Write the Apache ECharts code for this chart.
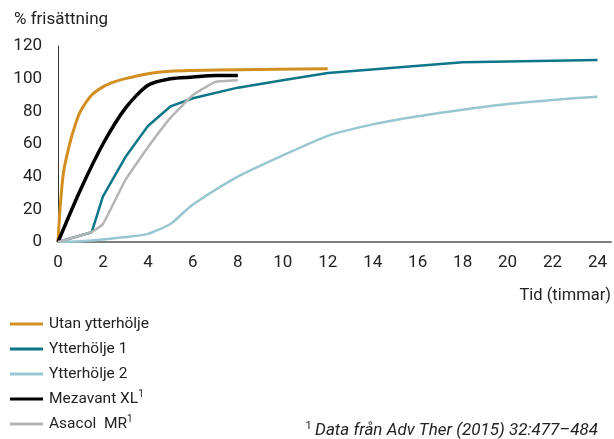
<!DOCTYPE html>
<html><head><meta charset="utf-8">
<script src="https://cdn.jsdelivr.net/npm/echarts@6/dist/echarts.min.js"></script>
<style>html,body{margin:0;padding:0;background:#fff}#c{width:614px;height:439px}</style>
</head><body><div id="c"></div>
<script>
const seriesNames = ['Utan ytterhölje', 'Ytterhölje 1', 'Ytterhölje 2', 'Mezavant XL', 'Asacol  MR'];
const utan = [[0,0],[0.1,22],[0.25,43],[0.5,59],[0.75,71],[1,80],[1.5,90],[2,95],[2.5,98],[3,100],[4,103],[5,104.5],[6,105],[8,105.5],[12,106]];
const ytter1 = [[0,0],[1.5,6],[2,28],[3,52],[4,71],[5,83],[6,88],[8,94.5],[10,99],[12,103.5],[18,110],[24,111.5]];
const ytter2 = [[0,0],[1,0.5],[2,1.5],[3,3],[4,5],[5,11],[5.5,17],[6,23],[8,40],[10,53],[12,65],[14,72],[16,77],[18,81],[20,84.5],[22,87],[24,89]];
const mezavant = [[0,0],[1,32],[2,60],[3,82],[4,96],[5,100],[6,101],[7,102],[8,102]];
const asacol = [[0,0],[1,4],[1.5,6],[2,11],[3,38],[4,58],[5,76],[6,90],[7,98],[8,99]];
const xTicks = [0,2,4,6,8,10,12,14,16,18,20,22,24];
const yTicks = [0,20,40,60,80,100,120];

const colors = ['#d28e20', '#0d7688', '#98c7d1', '#000000', '#b5b5b5'];
const widths = [3, 2.5, 2.5, 3.5, 2.5];
const smooths = [0.3, 0, 0.2, 0.25, 0.1];
const datas = [utan, ytter1, ytter2, mezavant, asacol];
const FONT = 'Roboto';

const chart = echarts.init(document.getElementById('c'), null, {renderer: 'canvas'});
chart.setOption({
  animation: false,
  backgroundColor: '#fff',
  grid: {left: 58, right: 3, top: 46, bottom: 197, containLabel: false},
  xAxis: {
    type: 'value', min: 0, max: 24.6, interval: 2,
    axisLine: {show: true, lineStyle: {color: '#7f7f7f', width: 2}},
    axisTick: {show: false},
    splitLine: {show: false},
    axisLabel: {
      color: '#222', fontFamily: FONT, fontSize: 17, margin: 12,
      formatter: v => xTicks.includes(v) ? String(v) : ''
    }
  },
  yAxis: {
    type: 'value', min: 0, max: 120, interval: 20,
    axisLine: {show: true, lineStyle: {color: '#333', width: 1}},
    axisTick: {show: false},
    splitLine: {show: false},
    axisLabel: {color: '#222', fontFamily: FONT, fontSize: 17, margin: 16,
      formatter: v => yTicks.includes(v) ? String(v) : ''}
  },
  legend: {
    orient: 'vertical', left: 10, top: 314, height: 125, padding: 0,
    itemWidth: 33, itemHeight: 3, itemGap: 5, icon: 'rect',
    data: seriesNames,
    formatter: n => (n === 'Mezavant XL' || n === 'Asacol  MR') ? n + '{sup|1}' : n,
    textStyle: {color: '#222', fontFamily: FONT, fontSize: 15.5, lineHeight: 20, padding: [0,0,0,1],
      rich: {sup: {fontSize: 10, verticalAlign: 'top', fontFamily: FONT, color: '#222', lineHeight: 20, padding: [0,0,8,0]}}}
  },
  graphic: [
    {type: 'text', left: 14, top: 11, style: {text: '% frisättning', font: '17px ' + FONT, fill: '#222'}},
    {type: 'text', right: 3, top: 287, style: {text: 'Tid (timmar)', font: '16.5px ' + FONT, fill: '#222'}},
    {type: 'text', right: 16, top: 421, style: {
      text: '{s|1} {t|Data från Adv Ther (2015) 32:477–484}',
      rich: {s: {fontSize: 11, fontFamily: FONT, fill: '#222', padding:[0,0,8,0]},
             t: {fontSize: 17, fontStyle: 'italic', fontFamily: FONT, fill: '#222'}}
    }}
  ],
  series: seriesNames.map((n, i) => ({
    name: n, type: 'line', data: datas[i], showSymbol: false, symbol: 'none',
    smooth: smooths[i],
    lineStyle: {color: colors[i], width: widths[i]},
    itemStyle: {color: colors[i]},
    z: 2 + i
  }))
});
</script></body></html>
